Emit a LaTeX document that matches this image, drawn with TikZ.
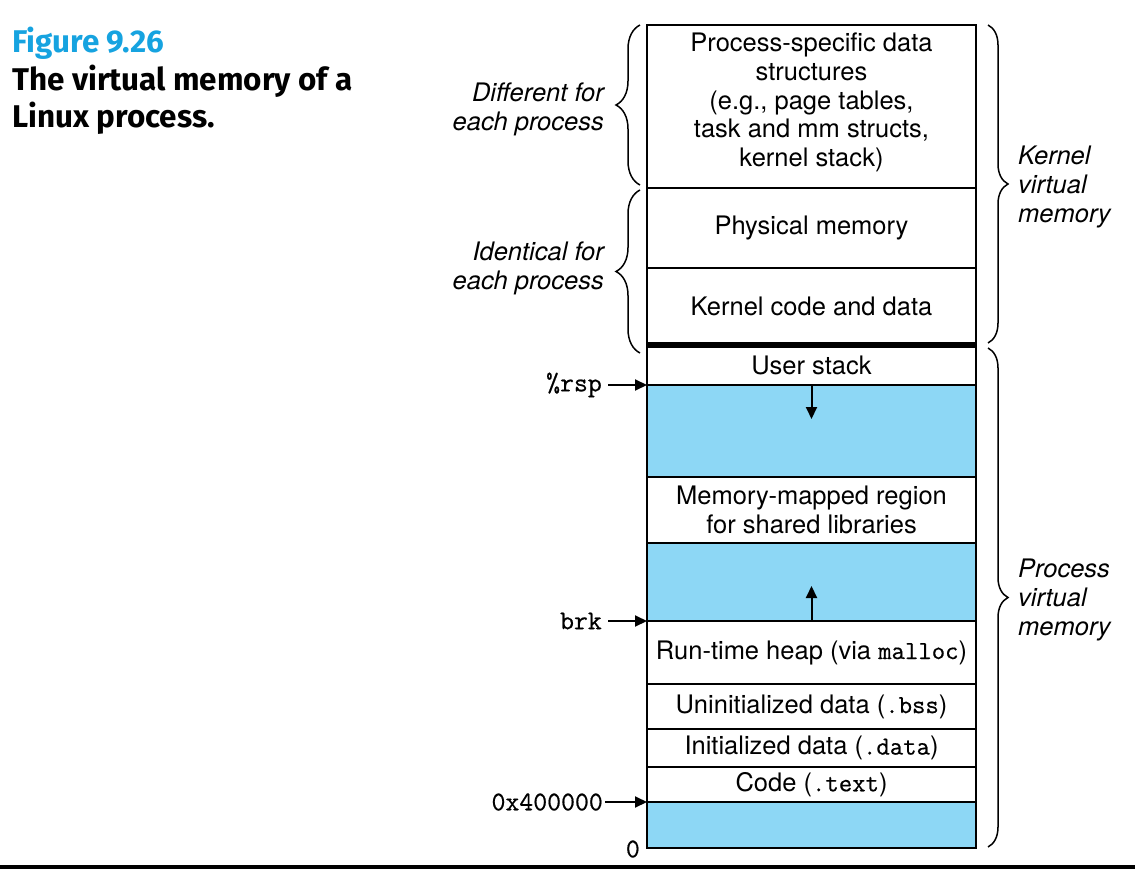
\documentclass[tikz,border=0pt]{standalone}
\usepackage{fontspec}
\setmainfont{TeX Gyre Heros}
\newfontfamily\titlefont{Fira Sans}
\newfontfamily\codefont[FakeBold=0.6]{Latin Modern Mono}
\usetikzlibrary{arrows.meta,decorations.pathreplacing}
\definecolor{gapblue}{RGB}{141,215,245}
\definecolor{figcyan}{RGB}{22,163,224}
\newcommand\codett[1]{{\fontsize{26}{29}\codefont #1}}
\begin{document}
\begin{tikzpicture}[x=1pt,y=-1pt,
  font=\fontsize{25.5}{28.7}\selectfont,
  region/.style={draw, line width=2.5pt, minimum width=329pt, inner sep=0pt, outer sep=0pt, align=center},
  gapregion/.style={region, fill=gapblue},
  sidelab/.style={inner sep=0pt, font=\fontsize{25.5}{29}\selectfont\itshape},
  ptrlab/.style={inner sep=0pt, anchor=east, font=\fontsize{27}{29}\selectfont\codefont},
  ptr/.style={-{Triangle[length=12pt,width=11pt]}, line width=2pt},
  bracel/.style={decorate, decoration={brace, amplitude=24pt}, line width=1.5pt},
  bracer/.style={decorate, decoration={brace, amplitude=20pt}, line width=1.5pt},
  titlestyle/.style={anchor=base west, inner sep=0pt, font=\titlefont\bfseries\fontsize{31.4}{38}\selectfont}
]
\useasboundingbox (0,0) rectangle (1135,869);

% title
\node[titlestyle, text=figcyan] (fig) at (12,53) {Figure 9.26};
\node[titlestyle] (cap1) at (12,91) {The virtual memory of a};
\node[titlestyle] (cap2) at (12,128) {Linux process.};

% regions
\node[region, minimum height=163pt] (ps) at (811.5,106.5) {};
\node[inner sep=0pt, align=center] (pstext) at (811.5,102.5) {Process-specific data\\structures\\(e.g., page tables,\\task and mm structs,\\kernel stack)};
\node[region, minimum height=80pt] (phys) at (811.5,228) {Physical memory};
\node[region, minimum height=77pt] (kcode) at (811.5,306.5) {Kernel code and data};
\node[region, minimum height=40pt] (ustack) at (811.5,365) {User stack};
\node[gapregion, minimum height=92pt] (gap1) at (811.5,431) {};
\node[region, minimum height=66pt] (mmap) at (811.5,510) {Memory-mapped region\\for shared libraries};
\node[gapregion, minimum height=78pt] (gap2) at (811.5,582) {};
\node[region, minimum height=63pt] (heap) at (811.5,652.5) {Run-time heap (via \codett{malloc})};
\node[region, minimum height=45pt] (bss) at (811.5,706.5) {Uninitialized data (\codett{.bss})};
\node[region, minimum height=38pt] (data) at (811.5,748) {Initialized data (\codett{.data})};
\node[region, minimum height=35pt] (text) at (811.5,784.5) {Code (\codett{.text})};
\node[gapregion, minimum height=46pt] (low) at (811.5,825) {};

\draw[line width=6pt] (kcode.south west) -- (kcode.south east);

% growth arrows
\coordinate (downtip) at (811.5,419);
\coordinate (uptip) at (811.5,586);
\draw[ptr] (gap1.north) -- (downtip);
\draw[ptr] (gap2.south) -- (uptip);

% pointer labels
\node[ptrlab] (rsp) at (602,385) {\%rsp};
\node[ptrlab] (brk) at (602,621) {brk};
\node[ptrlab] (base) at (603,802) {0x400000};
\node[ptrlab] (zero) at (640,849) {0};
\draw[ptr] ([xshift=6pt]rsp.east) -- (gap1.north west);
\draw[ptr] ([xshift=6pt]brk.east) -- (gap2.south west);
\draw[ptr] ([xshift=2pt]base.east) -- (low.north west);

% braces
\draw[bracel] (640,185) -- (640,25);
\draw[bracel] (640,353) -- (640,190);
\draw[bracer] (988,25) -- (988,343);
\draw[bracer] (988,348) -- (988,847);

% side labels
\node[sidelab, anchor=east, align=right] (diff) at (604,109) {Different for\\each process};
\node[sidelab, anchor=east, align=right] (iden) at (604,268) {Identical for\\each process};
\node[sidelab, anchor=west, align=left] (kvm) at (1018,187) {Kernel\\virtual\\memory};
\node[sidelab, anchor=west, align=left] (pvm) at (1018,600) {Process\\virtual\\memory};

% bottom rule
\fill (0,865) rectangle (1135,869);
\end{tikzpicture}
\end{document}
